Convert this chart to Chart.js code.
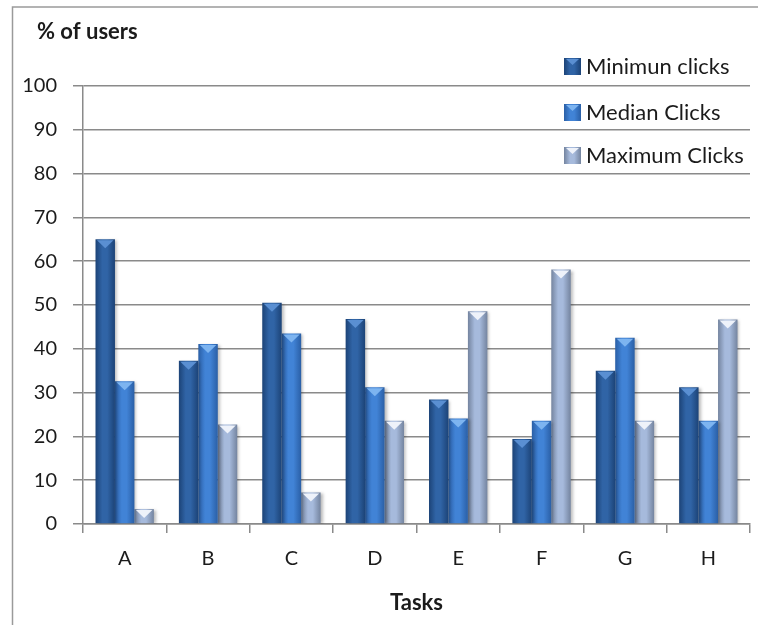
<!DOCTYPE html>
<html>
<head>
<meta charset="utf-8">
<script src="https://cdn.jsdelivr.net/npm/chart.js@4.4.1/dist/chart.umd.min.js"></script>
<style>
  html, body { margin: 0; padding: 0; background: #fff; }
</style>
</head>
<body>
<canvas id="clicksChart" width="758" height="625"></canvas>
<script>
// task categories and percentages per click group
const tasks = ['A', 'B', 'C', 'D', 'E', 'F', 'G', 'H'];
const minimumClicks = [65, 37.3, 50.5, 46.8, 28.4, 19.4, 35.0, 31.2];
const medianClicks = [32.6, 41.1, 43.5, 31.2, 24.1, 23.6, 42.5, 23.6];
const maximumClicks = [3.4, 22.7, 7.2, 23.6, 48.6, 58.1, 23.6, 46.7];
const seriesNames = ['Minimun clicks', 'Median Clicks', 'Maximum Clicks'];
const yTickValues = [0, 10, 20, 30, 40, 50, 60, 70, 80, 90, 100];

// edge / centre / bevel colours for each series
const shades = [
    { edge: '#1c4377', mid: '#3064a6', cap: '#5a8fd2' },
    { edge: '#2a5fa6', mid: '#4183d6', cap: '#7db4f0' },
    { edge: '#74849f', mid: '#a6badc', cap: '#eef2fa' },
];

const CAT_PCT = 0.7;
const textColor = '#1b1b1b';
const gridColor = '#8a8a8a';

function barGradient(ctx, x0, w, shade) {
    const g = ctx.createLinearGradient(x0, 0, x0 + w, 0);
    g.addColorStop(0, shade.edge);
    g.addColorStop(0.35, shade.mid);
    g.addColorStop(0.6, shade.mid);
    g.addColorStop(1, shade.edge);
    return g;
}

// horizontal gradient per bar, worked out from the category scale
function scriptedFill(context) {
    const chart = context.chart;
    const xScale = chart.scales.x;
    const shade = shades[context.datasetIndex];
    if (!xScale || context.dataIndex === undefined) return shade.mid;
    const catW = xScale.width / tasks.length;
    const barW = catW * CAT_PCT / 3;
    const centre = xScale.getPixelForValue(context.dataIndex);
    const x0 = centre - catW * CAT_PCT / 2 + context.datasetIndex * barW;
    if (!isFinite(x0) || !isFinite(barW) || barW <= 0) return shade.mid;
    return barGradient(chart.ctx, x0, barW, shade);
}

const frameAndLabels = {
    id: 'frameAndLabels',
    beforeDraw(chart) {
        const ctx = chart.ctx;
        ctx.save();
        ctx.strokeStyle = '#9a9a9a';
        ctx.lineWidth = 1.5;
        ctx.beginPath();
        ctx.moveTo(12.5, 625);
        ctx.lineTo(12.5, 7);
        ctx.lineTo(758, 7);
        ctx.stroke();
        ctx.restore();
    },
    beforeDatasetsDraw(chart) {
        const ctx = chart.ctx;
        ctx.save();
        ctx.shadowColor = 'rgba(0, 0, 0, 0.28)';
        ctx.shadowBlur = 3;
        ctx.shadowOffsetX = 2;
        ctx.shadowOffsetY = 1;
    },
    afterDatasetsDraw(chart) {
        const ctx = chart.ctx;
        ctx.restore();
        // bevelled tops
        chart.data.datasets.forEach((ds, di) => {
            const meta = chart.getDatasetMeta(di);
            meta.data.forEach((bar) => {
                const { x, y, width } = bar.getProps(['x', 'y', 'width'], true);
                const l = x - width / 2 + 1.5;
                const r = x + width / 2 - 1.5;
                ctx.save();
                ctx.fillStyle = shades[di].cap;
                ctx.beginPath();
                ctx.moveTo(l, y + 1);
                ctx.lineTo(r, y + 1);
                ctx.lineTo(x, y + Math.min(9, (chart.scales.y.bottom - y) - 1));
                ctx.closePath();
                ctx.fill();
                ctx.restore();
            });
        });
    },
    afterDraw(chart) {
        const ctx = chart.ctx;
        ctx.save();
        ctx.fillStyle = textColor;
        ctx.font = 'bold 22px Lato';
        ctx.textBaseline = 'alphabetic';
        ctx.fillText('% of users', 37, 39);

        // legend in the upper right of the plot
        const rows = [66, 112, 155];
        ctx.font = '22px Lato';
        ctx.textBaseline = 'middle';
        seriesNames.forEach((name, i) => {
            const cy = rows[i];
            ctx.fillStyle = barGradient(ctx, 564, 17, shades[i]);
            ctx.fillRect(564, cy - 8, 17, 17);
            ctx.fillStyle = shades[i].cap;
            ctx.beginPath();
            ctx.moveTo(566, cy - 7);
            ctx.lineTo(579, cy - 7);
            ctx.lineTo(572.5, cy - 1);
            ctx.closePath();
            ctx.fill();
            ctx.fillStyle = textColor;
            ctx.fillText(name, 586, cy + 1);
        });
        ctx.restore();
    },
};

const tickFont = { family: 'Lato', size: 20 };

new Chart(document.getElementById('clicksChart'), {
    type: 'bar',
    data: {
        labels: tasks,
        datasets: [
            { label: seriesNames[0], data: minimumClicks, backgroundColor: scriptedFill },
            { label: seriesNames[1], data: medianClicks, backgroundColor: scriptedFill },
            { label: seriesNames[2], data: maximumClicks, backgroundColor: scriptedFill },
        ],
    },
    options: {
        responsive: false,
        devicePixelRatio: 1,
        animation: false,
        layout: { padding: { left: 21, right: 8, top: 86, bottom: 0 } },
        datasets: {
            bar: {
                borderWidth: 0,
                barPercentage: 1,
                categoryPercentage: CAT_PCT,
            },
        },
        plugins: {
            colors: { enabled: false },
            legend: { display: false },
            tooltip: { enabled: false },
        },
        scales: {
            x: {
                grid: {
                    offset: true,
                    drawOnChartArea: false,
                    tickLength: 9,
                    color: gridColor,
                    lineWidth: 1.5,
                },
                border: { color: gridColor, width: 1.5 },
                ticks: { font: tickFont, color: textColor, padding: 14 },
                title: {
                    display: true,
                    text: 'Tasks',
                    color: textColor,
                    font: { family: 'Lato', size: 22, weight: 'bold' },
                    padding: { top: 0, bottom: 9 },
                },
                afterFit(scale) { scale.height = 101; },
            },
            y: {
                min: 0,
                max: 100,
                afterBuildTicks(scale) {
                    scale.ticks = yTickValues.map((v) => ({ value: v }));
                },
                grid: { color: gridColor, lineWidth: 1.5, tickLength: 10 },
                border: { color: gridColor, width: 1.5 },
                ticks: { font: tickFont, color: textColor, padding: 16 },
                afterFit(scale) { scale.width = 62; },
            },
        },
    },
    plugins: [frameAndLabels],
});
</script>
</body>
</html>
